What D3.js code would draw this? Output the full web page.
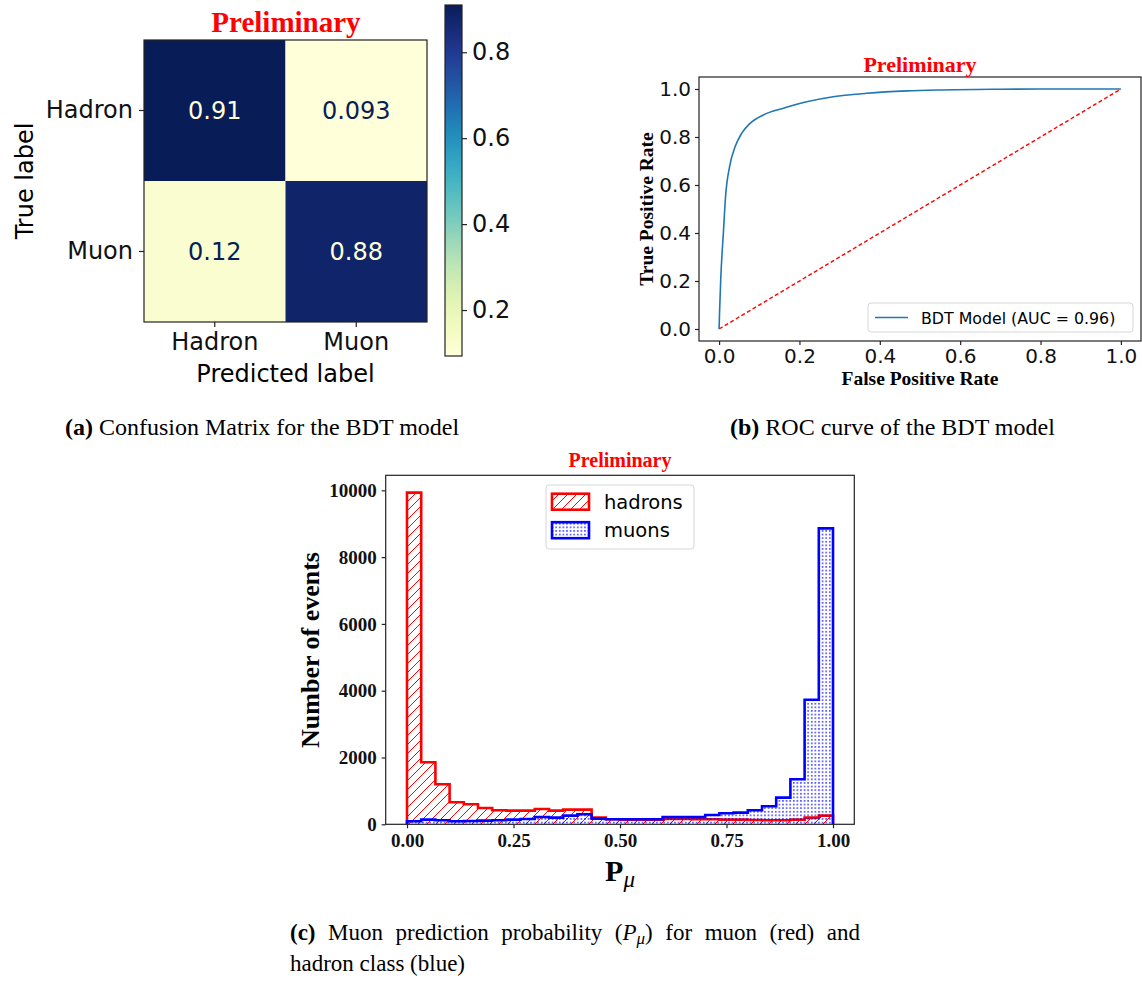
<!DOCTYPE html>
<html>
<head>
<meta charset="utf-8">
<script src="https://cdn.jsdelivr.net/npm/d3@7"></script>
<style>
  body { margin: 0; background: #fff; }
  svg { display: block; }
</style>
</head>
<body>
<div id="chart"></div>
<script>
// confusion matrix (rows = true label, cols = predicted label)
const classes = ['Hadron', 'Muon']
const matrix = [[0.91, 0.093], [0.12, 0.88]]
const colorbarTicks = [0.2, 0.4, 0.6, 0.8]

// ROC curve of the BDT model
const rocFpr = [0, 0.001, 0.004, 0.011, 0.016, 0.026, 0.04, 0.056, 0.077, 0.11, 0.16, 0.218, 0.284, 0.367, 0.467, 0.55, 0.7, 0.85, 1.0]
const rocTpr = [0, 0.06, 0.204, 0.41, 0.55, 0.676, 0.76, 0.815, 0.857, 0.892, 0.92, 0.947, 0.968, 0.982, 0.992, 0.996, 0.999, 1.0, 1.0]
const rocTicks = [0, 0.2, 0.4, 0.6, 0.8, 1.0]
const aucLabel = 'BDT Model (AUC = 0.96)'

// P_mu histogram, 30 bins on [0, 1]
const binCount = 30
const hadronCounts = [9930, 1860, 1200, 660, 600, 490, 420, 410, 410, 460, 410, 440, 440, 200, 150, 140, 140, 140, 160, 160, 150, 150, 140, 140, 130, 120, 120, 140, 200, 260]
const muonCounts = [90, 140, 120, 90, 100, 110, 120, 140, 160, 220, 200, 260, 300, 170, 150, 150, 150, 150, 220, 220, 220, 280, 330, 350, 420, 540, 800, 1350, 3730, 8860]
const histXTicks = [0, 0.25, 0.5, 0.75, 1.0]
const histYTicks = [0, 2000, 4000, 6000, 8000, 10000]

const sans = 'DejaVu Sans'
const serif = 'Liberation Serif'

const svg = d3.select('#chart').append('svg')
  .attr('width', 1142)
  .attr('height', 983)
svg.append('rect').attr('width', 1142).attr('height', 983).attr('fill', '#fff')

const defs = svg.append('defs')

function styleAxis (g, size, family, weight) {
  g.attr('font-size', size).attr('font-family', family).attr('font-weight', weight || 'normal')
  g.select('.domain').remove()
  g.selectAll('.tick line').attr('stroke', '#222').attr('stroke-width', 1.2)
  g.selectAll('.tick text').attr('fill', '#111')
}

// ---------- (a) confusion matrix ----------
const cm = svg.append('g')
const cx = d3.scaleBand().domain(classes).range([144, 427])
const cy = d3.scaleBand().domain(classes).range([40, 322])
const vmin = d3.min(matrix.flat())
const vmax = d3.max(matrix.flat())
const color = d3.scaleSequential(d3.interpolateYlGnBu).domain([vmin, vmax])
const cells = matrix.flatMap((row, i) => row.map((v, j) => ({ i, j, v })))

cm.selectAll('rect.cell')
  .data(cells)
  .join('rect')
  .attr('class', 'cell')
  .attr('x', d => cx(classes[d.j]))
  .attr('y', d => cy(classes[d.i]))
  .attr('width', cx.bandwidth())
  .attr('height', cy.bandwidth())
  .attr('fill', d => color(d.v))

cm.selectAll('text.val')
  .data(cells)
  .join('text')
  .attr('class', 'val')
  .attr('x', d => cx(classes[d.j]) + cx.bandwidth() / 2)
  .attr('y', d => cy(classes[d.i]) + cy.bandwidth() / 2)
  .attr('dy', '0.36em')
  .attr('text-anchor', 'middle')
  .attr('font-family', sans)
  .attr('font-size', 24)
  .attr('fill', d => d.v > (vmin + vmax) / 2 ? color(vmin) : color(vmax))
  .text(d => d3.format('.2g')(d.v))

cm.append('rect')
  .attr('x', 144).attr('y', 40).attr('width', 283).attr('height', 282)
  .attr('fill', 'none').attr('stroke', '#222').attr('stroke-width', 1.2)

cm.append('g')
  .attr('transform', 'translate(144,0)')
  .call(d3.axisLeft(cy).tickSize(5).tickPadding(6))
  .call(g => styleAxis(g, 24, sans))

cm.append('g')
  .attr('transform', 'translate(0,322)')
  .call(d3.axisBottom(cx).tickSize(5).tickPadding(6))
  .call(g => styleAxis(g, 24, sans))

cm.append('text')
  .attr('x', 285.5).attr('y', 382)
  .attr('text-anchor', 'middle')
  .attr('font-family', sans).attr('font-size', 24)
  .text('Predicted label')

cm.append('text')
  .attr('transform', 'translate(33,181) rotate(-90)')
  .attr('text-anchor', 'middle')
  .attr('font-family', sans).attr('font-size', 24)
  .text('True label')

cm.append('text')
  .attr('x', 286).attr('y', 32)
  .attr('text-anchor', 'middle')
  .attr('font-family', serif).attr('font-weight', 'bold').attr('font-size', 29)
  .attr('fill', '#ff0000')
  .text('Preliminary')

// colorbar
const cb = d3.scaleLinear().domain([vmin, vmax]).range([356, 5])
const grad = defs.append('linearGradient')
  .attr('id', 'cbGrad')
  .attr('x1', 0).attr('y1', 1).attr('x2', 0).attr('y2', 0)
grad.selectAll('stop')
  .data(d3.range(0, 1.0001, 0.05))
  .join('stop')
  .attr('offset', t => t)
  .attr('stop-color', t => d3.interpolateYlGnBu(t))

cm.append('rect')
  .attr('x', 445).attr('y', 5).attr('width', 17).attr('height', 351)
  .attr('fill', 'url(#cbGrad)')
  .attr('stroke', '#222').attr('stroke-width', 1.2)

cm.append('g')
  .attr('transform', 'translate(462,0)')
  .call(d3.axisRight(cb).tickValues(colorbarTicks).tickFormat(d3.format('.1f')).tickSize(5).tickPadding(5))
  .call(g => styleAxis(g, 24, sans))

svg.append('text')
  .attr('x', 65).attr('y', 435)
  .attr('font-family', serif).attr('font-size', 24)
  .call(t => {
    t.append('tspan').attr('font-weight', 'bold').text('(a)')
    t.append('tspan').text(' Confusion Matrix for the BDT model')
  })

// ---------- (b) ROC curve ----------
const roc = svg.append('g')
const xr = d3.scaleLinear().domain([-0.05, 1.05]).range([699, 1141])
const yr = d3.scaleLinear().domain([-0.05, 1.05]).range([341, 77])
const rocData = rocFpr.map((f, i) => [f, rocTpr[i]])

roc.append('line')
  .attr('x1', xr(0)).attr('y1', yr(0))
  .attr('x2', xr(1)).attr('y2', yr(1))
  .attr('stroke', '#ff0000').attr('stroke-width', 1.4)
  .attr('stroke-dasharray', '4,2.5')

roc.append('path')
  .datum(rocData)
  .attr('fill', 'none')
  .attr('stroke', '#1f77b4')
  .attr('stroke-width', 1.6)
  .attr('d', d3.line().x(d => xr(d[0])).y(d => yr(d[1])).curve(d3.curveMonotoneX))

roc.append('rect')
  .attr('x', 699).attr('y', 77).attr('width', 442).attr('height', 264)
  .attr('fill', 'none').attr('stroke', '#222').attr('stroke-width', 1.2)

roc.append('g')
  .attr('transform', 'translate(0,341)')
  .call(d3.axisBottom(xr).tickValues(rocTicks).tickFormat(d3.format('.1f')).tickSize(4).tickPadding(4))
  .call(g => styleAxis(g, 20, sans))

roc.append('g')
  .attr('transform', 'translate(699,0)')
  .call(d3.axisLeft(yr).tickValues(rocTicks).tickFormat(d3.format('.1f')).tickSize(4).tickPadding(4))
  .call(g => styleAxis(g, 20, sans))

roc.append('text')
  .attr('x', 920).attr('y', 385)
  .attr('text-anchor', 'middle')
  .attr('font-family', serif).attr('font-weight', 'bold').attr('font-size', 19.5)
  .text('False Positive Rate')

roc.append('text')
  .attr('transform', 'translate(653,209) rotate(-90)')
  .attr('text-anchor', 'middle')
  .attr('font-family', serif).attr('font-weight', 'bold').attr('font-size', 19.5)
  .text('True Positive Rate')

roc.append('text')
  .attr('x', 920).attr('y', 72)
  .attr('text-anchor', 'middle')
  .attr('font-family', serif).attr('font-weight', 'bold').attr('font-size', 22)
  .attr('fill', '#ff0000')
  .text('Preliminary')

const rl = roc.append('g')
rl.append('rect')
  .attr('x', 868).attr('y', 303).attr('width', 265).attr('height', 29).attr('rx', 3)
  .attr('fill', '#fff').attr('fill-opacity', 0.8)
  .attr('stroke', '#d6d6d6')
rl.append('line')
  .attr('x1', 875).attr('x2', 908).attr('y1', 317.5).attr('y2', 317.5)
  .attr('stroke', '#1f77b4').attr('stroke-width', 1.5)
rl.append('text')
  .attr('x', 921).attr('y', 323.5)
  .attr('font-family', sans).attr('font-size', 15.8)
  .text(aucLabel)

svg.append('text')
  .attr('x', 730).attr('y', 435)
  .attr('font-family', serif).attr('font-size', 24)
  .call(t => {
    t.append('tspan').attr('font-weight', 'bold').text('(b)')
    t.append('tspan').text(' ROC curve of the BDT model')
  })

// ---------- (c) P_mu histogram ----------
const hatchRed = defs.append('pattern')
  .attr('id', 'hatchRed')
  .attr('patternUnits', 'userSpaceOnUse')
  .attr('width', 9).attr('height', 9)
hatchRed.append('path')
  .attr('d', 'M0,9 L9,0 M-2,2 L2,-2 M7,11 L11,7')
  .attr('stroke', '#ff0000').attr('stroke-width', 1)

const dotsBlue = defs.append('pattern')
  .attr('id', 'dotsBlue')
  .attr('patternUnits', 'userSpaceOnUse')
  .attr('width', 3.6).attr('height', 3.6)
dotsBlue.append('rect')
  .attr('x', 0.9).attr('y', 1.2).attr('width', 1.7).attr('height', 1.1)
  .attr('fill', '#0000ff')

const hist = svg.append('g')
const hx = d3.scaleLinear().domain([-0.05, 1.05]).range([385.7, 854.3])
const hy = d3.scaleLinear().domain([0, 10450]).range([824.3, 475.3])
const edges = d3.range(binCount + 1).map(i => i / binCount)

function stepPoints (counts) {
  return [[0, 0], ...counts.flatMap((c, i) => [[edges[i], c], [edges[i + 1], c]]), [1, 0]]
}
const stepLine = d3.line().x(d => hx(d[0])).y(d => hy(d[1]))

const series = [
  { name: 'hadrons', counts: hadronCounts, stroke: '#ff0000', fill: 'url(#hatchRed)' },
  { name: 'muons', counts: muonCounts, stroke: '#0000ff', fill: 'url(#dotsBlue)' }
]

series.forEach(s => {
  hist.append('path')
    .datum(stepPoints(s.counts))
    .attr('fill', s.fill)
    .attr('stroke', 'none')
    .attr('d', d => stepLine(d) + 'Z')
  hist.append('path')
    .datum(stepPoints(s.counts))
    .attr('fill', 'none')
    .attr('stroke', s.stroke)
    .attr('stroke-width', 2.6)
    .attr('stroke-linejoin', 'miter')
    .attr('d', stepLine)
})

hist.append('rect')
  .attr('x', 385.7).attr('y', 475.3).attr('width', 468.6).attr('height', 349)
  .attr('fill', 'none').attr('stroke', '#222').attr('stroke-width', 1.2)

hist.append('g')
  .attr('transform', 'translate(0,824.3)')
  .call(d3.axisBottom(hx).tickValues(histXTicks).tickFormat(d3.format('.2f')).tickSize(4).tickPadding(5))
  .call(g => styleAxis(g, 19, serif, 'bold'))

hist.append('g')
  .attr('transform', 'translate(385.7,0)')
  .call(d3.axisLeft(hy).tickValues(histYTicks).tickFormat(d3.format('d')).tickSize(4).tickPadding(5))
  .call(g => styleAxis(g, 19, serif, 'bold'))

hist.append('text')
  .attr('transform', 'translate(319,650) rotate(-90)')
  .attr('text-anchor', 'middle')
  .attr('font-family', serif).attr('font-weight', 'bold').attr('font-size', 26)
  .text('Number of events')

hist.append('text')
  .attr('x', 620).attr('y', 881)
  .attr('text-anchor', 'middle')
  .attr('font-family', serif)
  .call(t => {
    t.append('tspan').attr('font-weight', 'bold').attr('font-size', 30).text('P')
    t.append('tspan').attr('font-style', 'italic').attr('font-size', 23).attr('dy', 6).text('μ')
  })

hist.append('text')
  .attr('x', 620).attr('y', 467)
  .attr('text-anchor', 'middle')
  .attr('font-family', serif).attr('font-weight', 'bold').attr('font-size', 20)
  .attr('fill', '#ff0000')
  .text('Preliminary')

const hl = hist.append('g')
hl.append('rect')
  .attr('x', 546).attr('y', 485).attr('width', 148).attr('height', 64).attr('rx', 3)
  .attr('fill', '#fff').attr('fill-opacity', 0.8)
  .attr('stroke', '#d6d6d6')
series.forEach((s, k) => {
  const yc = 501.7 + k * 28.5
  hl.append('rect')
    .attr('x', 552).attr('y', yc - 8).attr('width', 37).attr('height', 16)
    .attr('fill', s.fill).attr('stroke', s.stroke).attr('stroke-width', 2.6)
  hl.append('text')
    .attr('x', 604).attr('y', yc).attr('dy', '0.36em')
    .attr('font-family', sans).attr('font-size', 19.5)
    .text(s.name)
})

// caption (c), first line justified to the column
const cap1 = svg.append('text')
  .attr('x', 290).attr('y', 940)
  .attr('font-family', serif).attr('font-size', 23)
cap1.append('tspan').attr('font-weight', 'bold').text('(c)')
cap1.append('tspan').text(' Muon prediction probability (')
cap1.append('tspan').attr('font-style', 'italic').text('P')
cap1.append('tspan').attr('font-style', 'italic').attr('font-size', 17).attr('dy', 4).text('μ')
cap1.append('tspan').attr('dy', -4).text(') for muon (red) and')
const natural = cap1.node().getComputedTextLength()
cap1.attr('word-spacing', (570 - natural) / 8)

svg.append('text')
  .attr('x', 290).attr('y', 971)
  .attr('font-family', serif).attr('font-size', 23)
  .text('hadron class (blue)')
</script>
</body>
</html>
